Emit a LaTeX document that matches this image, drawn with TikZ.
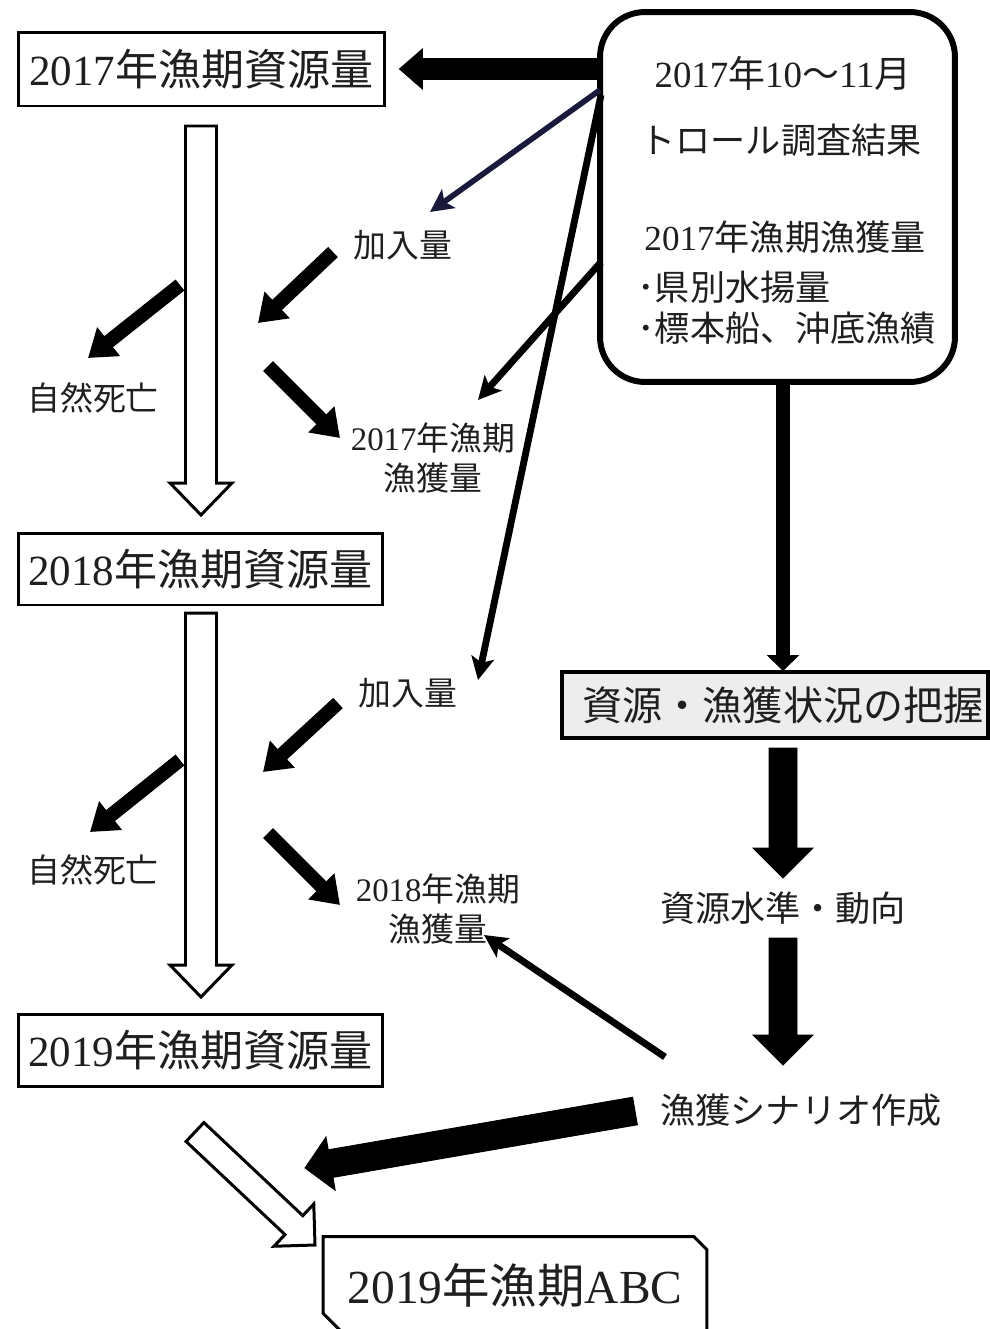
\documentclass[tikz,border=0pt]{standalone}
\usepackage{fontspec}
\setmainfont{Liberation Serif}
\newfontfamily\cjk{Noto Sans CJK JP}
\usetikzlibrary{arrows.meta,calc}
\newcommand\J[1]{{\cjk #1}}
% block arrow: #1 style, #2 start, #3 tip, #4 shaft half width, #5 head half width, #6 head length
\newcommand\blockarrow[6]{%
  \coordinate (ba-c) at ($(#3)!#6!(#2)$);
  \draw[#1] ($(#2)!#4!90:(#3)$) -- ($(ba-c)!#4!90:(#3)$) -- ($(ba-c)!#5!90:(#3)$)
    -- (#3) -- ($(ba-c)!#5!-90:(#3)$) -- ($(ba-c)!#4!-90:(#3)$) -- ($(#2)!#4!-90:(#3)$) -- cycle;}
\definecolor{navyline}{RGB}{25,25,60}
\begin{document}
\begin{tikzpicture}[x=0.02cm,y=-0.02cm,
  txt/.style={text=black!88, inner sep=0pt},
  bigbox/.style={txt, draw=black, line width=1.7pt, minimum height=1.44cm,
     font=\fontsize{24.5}{28}\selectfont},
  inbox/.style={txt, font=\fontsize{20}{24}\selectfont},
  lbl/.style={txt, font=\fontsize{18.7}{22.8}\selectfont, align=center},
  midarr/.style={line width=8pt, -{Triangle[width=20pt,length=15pt]}},
  thinarr/.style={line width=3.9pt, -{Stealth[length=13pt,width=13pt,inset=3pt]}},
  solidblock/.style={fill=black, draw=black, line width=0.5pt},
  hollowblock/.style={fill=white, draw=black, line width=1.7pt, line join=miter}]
\useasboundingbox (0,0) rectangle (990,1329);
\fill[white] (0,0) rectangle (990,1329);

% left column boxes
\node[bigbox, minimum width=7.34cm, minimum height=1.48cm] (b17) at (201.5,69) {2017\J{年漁期資源量}};
\node[bigbox, minimum width=7.3cm] (b18) at (200.5,569) {2018\J{年漁期資源量}};
\node[bigbox, minimum width=7.3cm] (b19) at (200.5,1050) {2019\J{年漁期資源量}};

% rounded info box
\node[draw=black, line width=3.4pt, rounded corners=0.9cm, minimum width=7.1cm, minimum height=7.4cm] (rb) at (777.5,197) {};
\node[inbox, font=\fontsize{21}{24}\selectfont] (t1) at (783,73) {2017\J{年}10\J{～}11\J{月}};
\node[inbox] (t2) at (781,140) {\J{トロール調査結果}};
\node[inbox] (t3) at (785,237) {2017\J{年漁期漁獲量}};
\node[inbox, anchor=west] (t4) at (637,287) {\J{･県別水揚量}};
\node[inbox, anchor=west] (t5) at (637,328) {\J{･標本船、沖底漁績}};

% right column
\node[draw=black, line width=2.3pt, fill=black!7, minimum width=8.52cm, minimum height=1.32cm] (grasp) at (775,705) {};
\node[txt, font=\fontsize{22.8}{26}\selectfont] (graspt) at (783,705) {\J{資源・漁獲状況の把握}};
\node[inbox] (level) at (783,908) {\J{資源水準・動向}};
\node[inbox] (scen) at (801,1110) {\J{漁獲シナリオ作成}};

% ABC box
\node[txt, minimum width=7.66cm, minimum height=1.92cm, font=\fontsize{27}{30}\selectfont] (abc) at (515,1285) {2019\J{年漁期}ABC};
\draw[line width=1.7pt, line join=miter] ([yshift=-0.26cm]abc.north east) -- ([xshift=-0.26cm]abc.north east)
  -- (abc.north west) -- ([yshift=0.4cm]abc.south west) -- ([xshift=0.4cm]abc.south west)
  -- (abc.south east) -- cycle;

% labels
\node[lbl] (k1) at (403,245) {\J{加入量}};
\node[lbl] (d1) at (93,398) {\J{自然死亡}};
\node[lbl] (c1) at (433,458) {2017\J{年漁期}\\\J{漁獲量}};
\node[lbl] (k2) at (408,693) {\J{加入量}};
\node[lbl] (d2) at (93,870) {\J{自然死亡}};
\node[lbl] (c2) at (438,909) {2018\J{年漁期}\\\J{漁獲量}};

% named arrow ends
\coordinate (a1s) at (180,285); \coordinate (a1e) at (88,358);
\coordinate (a2s) at (333,252); \coordinate (a2e) at (258,323);
\coordinate (a3s) at (268,366); \coordinate (a3e) at (340,438);
\coordinate (a4s) at (338,703); \coordinate (a4e) at (263,772);
\coordinate (a5s) at (180,760); \coordinate (a5e) at (90,832);
\coordinate (a6s) at (268,833); \coordinate (a6e) at (340,905);
\coordinate (l1s) at (600,90);  \coordinate (l1e) at (430,212);
\coordinate (l2s) at (601,95);  \coordinate (l2e) at (478,680);
\coordinate (l3s) at (601,262); \coordinate (l3e) at (478,400);
\coordinate (l4s) at (665,1057); \coordinate (l4e) at (484,935);
\coordinate (v1s) at (783,382); \coordinate (v1e) at (783,671);
\coordinate (B1s) at (rb.west |- b17.east); \coordinate (B1e) at ([xshift=0.26cm]b17.east);
\coordinate (B2s) at (783,748); \coordinate (B2e) at (783,878);
\coordinate (B3s) at (783,938); \coordinate (B3e) at (783,1065);
\coordinate (B4s) at (635,1111); \coordinate (B4e) at (305,1168);
\coordinate (H1s) at (201,126); \coordinate (H1e) at (201,515);
\coordinate (H2s) at (201,613); \coordinate (H2e) at (201,997);
\coordinate (H3s) at (195,1132); \coordinate (H3e) at (315,1245);

% hollow flow arrows
\blockarrow{hollowblock}{H1s}{H1e}{0.31cm}{0.62cm}{0.64cm}
\blockarrow{hollowblock}{H2s}{H2e}{0.31cm}{0.62cm}{0.64cm}
\blockarrow{hollowblock}{H3s}{H3e}{0.26cm}{0.58cm}{0.58cm}

% solid block arrows
\blockarrow{solidblock}{B1s}{B1e}{0.21cm}{0.4cm}{0.46cm}
\blockarrow{solidblock}{B2s}{B2e}{0.28cm}{0.6cm}{0.6cm}
\blockarrow{solidblock}{B3s}{B3e}{0.28cm}{0.6cm}{0.6cm}
\blockarrow{solidblock}{B4s}{B4e}{0.28cm}{0.54cm}{0.52cm}

% medium arrows
\foreach \i in {1,...,6} {\draw[midarr] (a\i s) -- (a\i e);}

% thin connectors
\draw[thinarr, draw=navyline, fill=navyline, line width=3.2pt] (l1s) -- (l1e);
\draw[thinarr] (l2s) -- (l2e);
\draw[thinarr] (l3s) -- (l3e);
\draw[thinarr] (l4s) -- (l4e);
\draw[line width=8pt, -{Triangle[width=18pt,length=9pt]}] (v1s) -- (v1e);
\end{tikzpicture}
\end{document}
